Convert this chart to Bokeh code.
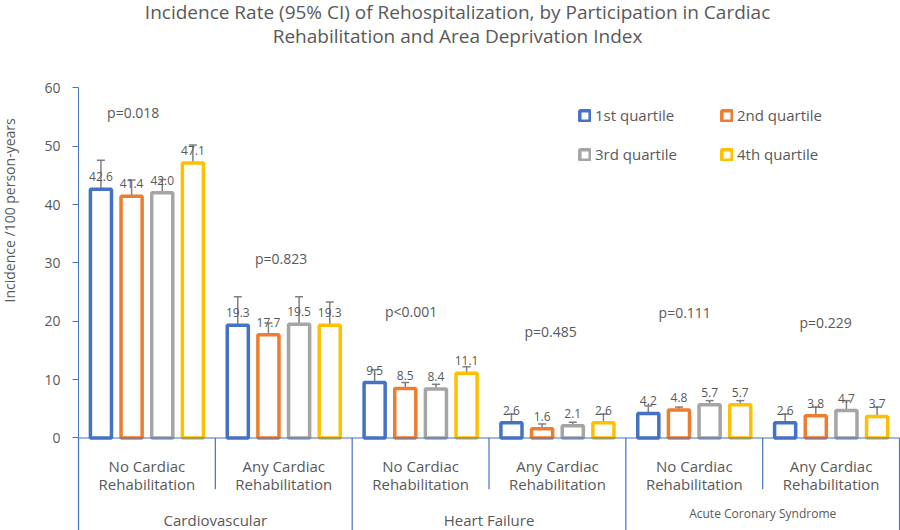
import math
from bokeh.plotting import figure
from bokeh.models import (ColumnDataSource, FixedTicker, Whisker, TeeHead, Legend,
                          LegendItem)
from bokeh.core.properties import value
from bokeh.embed import file_html
from bokeh.resources import INLINE

# ---------------- data ----------------
groups = ["Cardiovascular", "Heart Failure", "Acute Coronary Syndrome"]
subcats = ["No Cardiac\nRehabilitation", "Any Cardiac\nRehabilitation"]
quartiles = ["1st quartile", "2nd quartile", "3rd quartile", "4th quartile"]
colors = ["#4472C4", "#ED7D31", "#A5A5A5", "#FFC000"]
y_ticks = [0, 10, 20, 30, 40, 50, 60]

# values per quartile over the 6 categories (CV-No, CV-Any, HF-No, HF-Any, ACS-No, ACS-Any)
q1 = [42.6, 19.3, 9.5, 2.6, 4.2, 2.6]
q2 = [41.4, 17.7, 8.5, 1.6, 4.8, 3.8]
q3 = [42.0, 19.5, 8.4, 2.1, 5.7, 4.7]
q4 = [47.1, 19.3, 11.1, 2.6, 5.7, 3.7]

q1_lo = [38.2, 15.4, 7.7, 1.4, 3.2, 1.4]
q1_hi = [47.6, 24.2, 11.7, 4.1, 5.5, 4.1]
q2_lo = [38.7, 14.9, 7.5, 0.7, 4.1, 2.6]
q2_hi = [44.2, 19.7, 9.5, 2.4, 5.3, 5.3]
q3_lo = [39.7, 16.9, 7.5, 1.4, 5.0, 3.4]
q3_hi = [44.3, 24.2, 9.2, 2.7, 6.4, 6.4]
q4_lo = [44.3, 15.8, 9.8, 1.7, 5.0, 2.6]
q4_hi = [50.2, 23.3, 12.2, 4.1, 6.4, 5.3]

p_values = ["p=0.018", "p=0.823", "p<0.001", "p=0.485", "p=0.111", "p=0.229"]
p_x = [0.40, 1.48, 2.43, 3.45, 4.43, 5.46]
p_y = [55.7, 30.7, 21.7, 18.2, 21.5, 19.8]

title_text = ("Incidence Rate (95% CI) of Rehospitalization, by Participation in Cardiac\n"
              "Rehabilitation and Area Deprivation Index")
y_label = "Incidence /100 person-years"

series = [q1, q2, q3, q4]
lows = [q1_lo, q2_lo, q3_lo, q4_lo]
highs = [q1_hi, q2_hi, q3_hi, q4_hi]

TXT = "#595959"
AX = "#4472C4"
FONT = "Open Sans"

n_cat = len(subcats) * len(groups)
pitch = 0.224
bar_w = 0.154

p = figure(width=900, height=530, x_range=(-0.570, n_cat + 0.007),
           y_range=(-15.85, 74.96),
           output_backend="svg", toolbar_location=None, x_axis_location=None,
           min_border_left=0, min_border_right=0, min_border_top=0,
           min_border_bottom=0)
p.outline_line_color = None
p.xgrid.visible = False
p.ygrid.visible = False

yax = p.yaxis[0]
yax.fixed_location = 0
yax.bounds = (0, 60)
yax.ticker = FixedTicker(ticks=y_ticks)
yax.axis_line_color = AX
yax.major_tick_line_color = AX
yax.major_tick_out = 6
yax.major_tick_in = 0
yax.minor_tick_line_color = None
yax.major_label_standoff = 12
yax.major_label_text_color = TXT
yax.major_label_text_font = FONT
yax.major_label_text_font_size = "14px"

legend_items = []
for k, (vals, lo, hi) in enumerate(zip(series, lows, highs)):
    xs = [i + 0.5 + (k - 1.5) * pitch for i in range(n_cat)]
    src = ColumnDataSource(dict(x=xs, top=vals, lo=lo, hi=hi,
                                lab=[f"{v:.1f}" for v in vals]))
    r = p.vbar(x="x", top="top", width=bar_w, source=src, fill_color="white",
               line_color=colors[k], line_width=3.5)
    legend_items.append(LegendItem(label=quartiles[k], renderers=[r]))
    p.text(x="x", y="top", text="lab", source=src, text_align="center",
           text_baseline="bottom", y_offset=-8, text_font=value(FONT),
           text_font_size="12px", text_color=TXT)
    w = Whisker(source=src, base="x", upper="hi", lower="lo", dimension="height",
                line_color="#7F7F7F", line_width=1.5,
                upper_head=TeeHead(size=8, line_color="#7F7F7F", line_width=1.5),
                lower_head=TeeHead(size=8, line_color="#7F7F7F", line_width=1.5))
    p.add_layout(w)

# p-values
p.text(x=p_x, y=p_y, text=p_values, text_align="center", text_baseline="middle",
       text_font=value(FONT), text_font_size="14px", text_color=TXT)

# category axis (Excel style, multi-level)
p.segment(x0=[0], y0=[0], x1=[n_cat], y1=[0], line_color=AX, line_width=1.2)
sub_sep = [1, 3, 5]
grp_sep = [0, 2, 4, 6]
p.segment(x0=sub_sep, y0=[0] * 3, x1=sub_sep, y1=[-8.8] * 3, line_color=AX, line_width=1.2)
p.segment(x0=grp_sep, y0=[0] * 4, x1=grp_sep, y1=[-15.85] * 4, line_color=AX, line_width=1.2)

p.text(x=[i + 0.5 for i in range(n_cat)], y=[-6.3] * n_cat,
       text=subcats * len(groups), text_align="center", text_baseline="middle",
       text_line_height=0.92, text_font=value(FONT), text_font_size="15px",
       text_color=TXT)
p.text(x=[1, 3, 5], y=[-14.0, -14.0, -12.9], text=groups, text_align="center",
       text_baseline="middle", text_font=value(FONT),
       text_font_size=["15px", "15px", "12px"], text_color=TXT)

# y axis label (left of the axis)
p.text(x=[-0.504], y=[39.0], text=[y_label], angle=math.pi / 2,
       text_align="center", text_baseline="middle",
       text_font=value(FONT), text_font_size="14px", text_color=TXT)

# title
p.text(x=[2.77], y=[71.0], text=[title_text], text_align="center",
       text_baseline="middle", text_line_height=0.92,
       text_font=value(FONT), text_font_size="19px", text_color=TXT)

legend = Legend(items=legend_items, location=(578, 366), orientation="horizontal",
                ncols=2, padding=0, margin=0, spacing=19, border_line_color=None,
                background_fill_alpha=0, glyph_width=13, glyph_height=13,
                label_standoff=4, label_width=106, label_height=20,
                label_text_font=FONT, label_text_font_size="15px",
                label_text_color=TXT)
p.add_layout(legend)

open("out.html", "w").write(file_html(p, INLINE))
